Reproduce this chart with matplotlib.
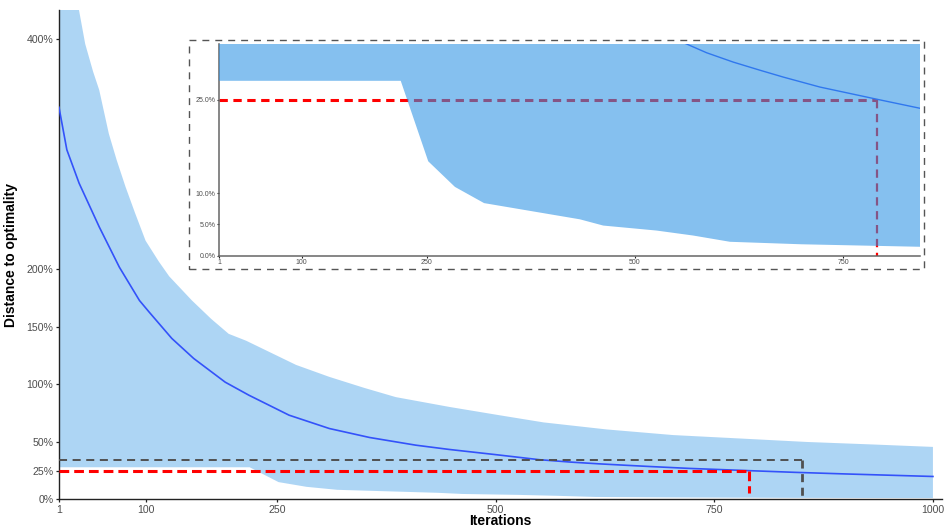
import matplotlib
matplotlib.use("Agg")
import matplotlib.pyplot as plt
import matplotlib.patches as mpatches
import numpy as np

plt.rcParams['font.family'] = ['Liberation Sans', 'DejaVu Sans']
plt.rcParams['lines.scale_dashes'] = False

# ---- data ----
mean_iter = [1, 10, 24, 47, 70, 93, 104, 130, 155, 191, 218, 264, 310, 356, 409, 447,
             500, 550, 586, 618, 650, 678, 722, 792, 842, 900, 950, 1000]
mean_val = [341, 304, 275, 237, 202, 173, 163, 140, 122.6, 102, 90.7, 73.3, 61.7, 53.9, 47.2, 43.5,
            39.0, 34.6, 32.5, 31.0, 29.7, 28.6, 27.0, 25.0, 23.6, 22.2, 21.1, 20.0]

upper_iter = [1, 12, 24, 31, 40, 47, 58, 67, 77, 88, 100, 115, 127, 153, 175, 195, 215, 234, 272,
              310, 350, 386, 447, 504, 555, 627, 703, 780, 856, 932, 1000]
upper_val = [520, 470, 425, 396, 372, 356, 318, 295, 272, 249, 225, 207, 194, 173, 157, 144, 138, 131,
             117, 106.6, 97, 89, 80.5, 73.3, 67, 60.9, 56, 53, 50, 47.8, 45.7]

lower_iter = [1, 219, 252, 284, 319, 434, 462, 526, 570, 614, 700, 842, 1000]
lower_val = [28.0, 28.0, 15.1, 11.0, 8.4, 5.8, 4.8, 4.0, 3.2, 2.2, 1.8, 1.4, 1.2]

target_pct = 25       # red reference level
target_iter = 790     # iteration where mean reaches the target
zoom_top = 34.5       # zoom window (gray box) height
zoom_iter = 850       # zoom window width

main_xticks = [1, 100, 250, 500, 750, 1000]
main_yticks = [0, 25, 50, 100, 150, 200, 400]
inset_xticks = [1, 100, 250, 500, 750]
inset_yticks = [0, 5, 10, 25]

# ---- styles ----
band_color = '#2E93E5'
line_color = '#3352FA'
tick_color = '#4D4D4D'

fig = plt.figure(figsize=(9.45, 5.29), dpi=100)
ax = fig.add_axes([0.0624, 0.0558, 0.9341, 0.9252])

poly_x = np.concatenate([upper_iter, lower_iter[::-1]])
poly_y = np.concatenate([upper_val, lower_val[::-1]])

ax.fill(poly_x, poly_y, color=band_color, alpha=0.39, lw=0, zorder=1)
ax.plot(mean_iter, mean_val, color=line_color, lw=1.2, zorder=3)

# gray zoom box
ax.plot([1, zoom_iter], [zoom_top, zoom_top], color='#505050', lw=1.4,
        dashes=(5.8, 4.0), zorder=4)
ax.plot([zoom_iter, zoom_iter], [zoom_top, 0], color='#505050', lw=2.0,
        dashes=(5.8, 4.0), zorder=4)
# red target lines
ax.plot([1, target_iter], [target_pct, target_pct], color='red', lw=2.2,
        dashes=(7.0, 3.6), zorder=5)
ax.plot([target_iter, target_iter], [target_pct, 5.5], color='red', lw=2.2,
        dashes=(7.0, 3.6), zorder=5)

ax.set_xlim(1, 1010)
ax.set_ylim(0, 425.5)
ax.set_xticks(main_xticks)
ax.set_xticklabels([str(t) for t in main_xticks])
ax.set_yticks(main_yticks)
ax.set_yticklabels([f"{t}%" for t in main_yticks])
for s in ['top', 'right']:
    ax.spines[s].set_visible(False)
for s in ['left', 'bottom']:
    ax.spines[s].set_linewidth(1.0)
    ax.spines[s].set_color('#222222')
ax.tick_params(axis='both', labelsize=7.6, labelcolor=tick_color, length=2.5,
               width=0.9, color='#222222', pad=1.5)
ax.set_xlabel('Iterations', fontsize=10, fontweight='bold', labelpad=-1)
ax.set_ylabel('Distance to optimality', fontsize=10, fontweight='bold', labelpad=6)

# ---- inset ----
axi = fig.add_axes([0.2318, 0.517, 0.7417, 0.3998])
axi.plot([1, target_iter], [target_pct, target_pct], color='red', lw=2.2,
         dashes=(6.0, 4.0), zorder=1)
axi.plot([target_iter, target_iter], [target_pct, 0], color='red', lw=1.6,
         dashes=(6.0, 4.0), zorder=1)
axi.plot(mean_iter, mean_val, color=line_color, lw=1.0, zorder=2)
axi.fill(poly_x, poly_y, color=band_color, alpha=0.585, lw=0, zorder=3)
axi.set_xlim(1, 842)
axi.set_ylim(0, 33.9)
axi.set_xticks(inset_xticks)
axi.set_xticklabels([str(t) for t in inset_xticks])
axi.set_yticks(inset_yticks)
axi.set_yticklabels([f"{t:.1f}%" for t in inset_yticks])
for s in ['top', 'right']:
    axi.spines[s].set_visible(False)
for s in ['left', 'bottom']:
    axi.spines[s].set_linewidth(1.1)
    axi.spines[s].set_color('#666666')
axi.tick_params(axis='both', labelsize=5, labelcolor=tick_color, length=1.5,
                width=0.8, color='#222222', pad=1)
axi.set_facecolor('none')

border = mpatches.Rectangle((0.2, 0.4915), 0.7778, 0.433, transform=fig.transFigure,
                            fill=False, edgecolor='#555555', lw=1.0,
                            linestyle=(0, (5.0, 4.3)))
fig.patches.append(border)

fig.savefig('out.png', dpi=100)
